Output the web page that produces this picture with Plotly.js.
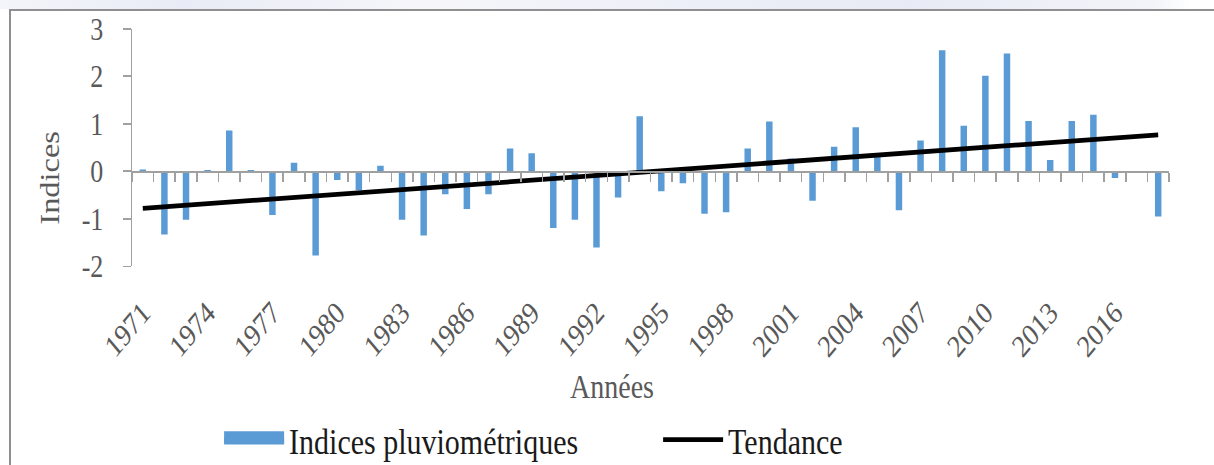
<!DOCTYPE html>
<html>
<head>
<meta charset="utf-8">
<script src="https://cdn.plot.ly/plotly-3.0.1.min.js"></script>
<style>
  html, body { margin: 0; padding: 0; background: #ffffff; overflow: hidden; }
  #wrap { position: relative; width: 1214px; height: 465px; overflow: hidden; }
  #chart { position: absolute; left: 0; top: 0; width: 1214px; height: 388px;
    transform: scaleY(1.2); transform-origin: 0 0; }
  #topband { position: absolute; left: 0; top: 0; width: 1214px; height: 9px;
    background: linear-gradient(90deg, #f4f5fa 0%, #e9ecf6 15%, #f6f6fa 35%, #eef0f8 55%, #e8ebf5 75%, #f3f4f9 95%, #ffffff 98%); }
  #frame { position: absolute; left: 9px; top: 9px; width: 1400px; height: 600px;
    border-left: 2px solid #8f8f8f; border-top: 2px solid #8f8f8f; pointer-events: none; }
</style>
</head>
<body>
<div id="wrap">
  <div id="chart"></div>
  <div id="topband"></div>
  <div id="frame"></div>
</div>
<script>
// ---- Data ----
const years = [
  1971, 1972, 1973, 1974, 1975, 1976, 1977, 1978, 1979, 1980,
  1981, 1982, 1983, 1984, 1985, 1986, 1987, 1988, 1989, 1990,
  1991, 1992, 1993, 1994, 1995, 1996, 1997, 1998, 1999, 2000,
  2001, 2002, 2003, 2004, 2005, 2006, 2007, 2008, 2009, 2010,
  2011, 2012, 2013, 2014, 2015, 2016, 2017, 2018
];
const indices = [
   0.04, -1.33, -1.02,  0.03,  0.86,  0.03, -0.92,  0.18, -1.77, -0.18,
  -0.40,  0.12, -1.02, -1.35, -0.48, -0.79, -0.48,  0.48,  0.38, -1.19,
  -1.02, -1.60, -0.55,  1.16, -0.42, -0.25, -0.89, -0.86,  0.48,  1.05,
   0.27, -0.62,  0.52,  0.93,  0.30, -0.82,  0.65,  2.55,  0.96,  2.01,
   2.48,  1.06,  0.24,  1.06,  1.19, -0.14,  0.00, -0.95
];
const trendYears = [1971, 2018];
const trendValues = [-0.78, 0.77];
const yTicks = [-2, -1, 0, 1, 2, 3];
const yTickText = ["-2", "-1", "0", "1", "2", "3"];
const xLabelStart = 1971;
const xLabelStep = 3;

const seriesNames = ["Indices pluviométriques", "Tendance"];
const xTitle = "Années";
const yTitle = "Indices";

const serif = "Liberation Serif, Times New Roman, serif";
const gray = "#595959";
const axisGray = "#a0a0a0";
const barColor = "#5b9bd5";

const traces = [
  {
    // legend swatch for the bar series (wide blue rectangle, as in the source)
    type: "scatter",
    mode: "lines",
    name: seriesNames[0],
    x: [null],
    y: [null],
    fill: "toself",
    fillcolor: barColor,
    line: { color: barColor, width: 10 },
    legendrank: 1,
    hoverinfo: "skip"
  },
  {
    type: "bar",
    name: seriesNames[0],
    x: years,
    y: indices,
    width: 0.3,
    marker: { color: barColor },
    showlegend: false,
    xaxis: "x",
    yaxis: "y"
  },
  {
    type: "scatter",
    mode: "lines",
    name: seriesNames[1],
    x: trendYears,
    y: trendValues,
    line: { color: "#000000", width: 4 },
    legendrank: 2,
    xaxis: "x",
    yaxis: "y"
  },
  {
    // invisible helper so the zero-level axis (ticks between years) is drawn
    type: "scatter", mode: "markers", x: [years[0]], y: [0],
    xaxis: "x2", yaxis: "y", showlegend: false, hoverinfo: "skip",
    marker: { opacity: 0 }
  }
];

const layout = {
  width: 1214,
  height: 388,
  margin: { l: 132, r: 45, t: 24, b: 166, autoexpand: false },
  paper_bgcolor: "rgba(0,0,0,0)",
  plot_bgcolor: "rgba(0,0,0,0)",
  font: { family: serif, color: gray },
  showlegend: true,
  legend: {
    orientation: "h",
    x: 0.084,
    xanchor: "left",
    y: -0.729,
    yanchor: "middle",
    font: { family: serif, size: 30, color: "#1a1a1a" },
    entrywidth: 364,
    entrywidthmode: "pixels",
    itemwidth: 60,
    bgcolor: "rgba(0,0,0,0)"
  },
  xaxis: {
    range: [years[0] - 0.5, years[years.length - 1] + 0.5],
    tick0: xLabelStart,
    dtick: xLabelStep,
    tickmode: "linear",
    tickangle: -45,
    ticks: "",
    showline: false,
    showgrid: false,
    zeroline: false,
    automargin: false,
    ticklabelstandoff: 17,
    tickfont: { family: serif, size: 26, color: gray },
    fixedrange: true
  },
  xaxis2: {
    overlaying: "x",
    matches: "x",
    anchor: "free",
    position: 0.4,
    side: "bottom",
    tickmode: "linear",
    tick0: years[0] - 0.5,
    dtick: 1,
    ticks: "outside",
    ticklen: 7.5,
    tickwidth: 1.5,
    tickcolor: axisGray,
    showticklabels: false,
    showline: true,
    linecolor: axisGray,
    linewidth: 1.5,
    showgrid: false,
    zeroline: false,
    automargin: false
  },
  yaxis: {
    range: [yTicks[0], yTicks[yTicks.length - 1]],
    tickmode: "array",
    tickvals: yTicks,
    ticktext: yTickText,
    ticks: "outside",
    ticklen: 8,
    tickwidth: 1.5,
    tickcolor: axisGray,
    showline: true,
    linecolor: axisGray,
    linewidth: 1.5,
    showgrid: false,
    zeroline: false,
    automargin: false,
    ticklabelstandoff: 14,
    tickfont: { family: serif, size: 26, color: gray },
    fixedrange: true
  },
  annotations: [
    {
      text: yTitle,
      xref: "paper", yref: "paper",
      x: -0.079, y: 0.373,
      xanchor: "center", yanchor: "middle",
      textangle: -90,
      showarrow: false,
      font: { family: serif, size: 27, color: gray }
    },
    {
      text: xTitle,
      xref: "paper", yref: "paper",
      x: 0.463, y: -0.51,
      xanchor: "center", yanchor: "middle",
      showarrow: false,
      font: { family: serif, size: 28, color: gray }
    }
  ]
};

Plotly.newPlot("chart", traces, layout, { displayModeBar: false, staticPlot: true });
</script>
</body>
</html>
